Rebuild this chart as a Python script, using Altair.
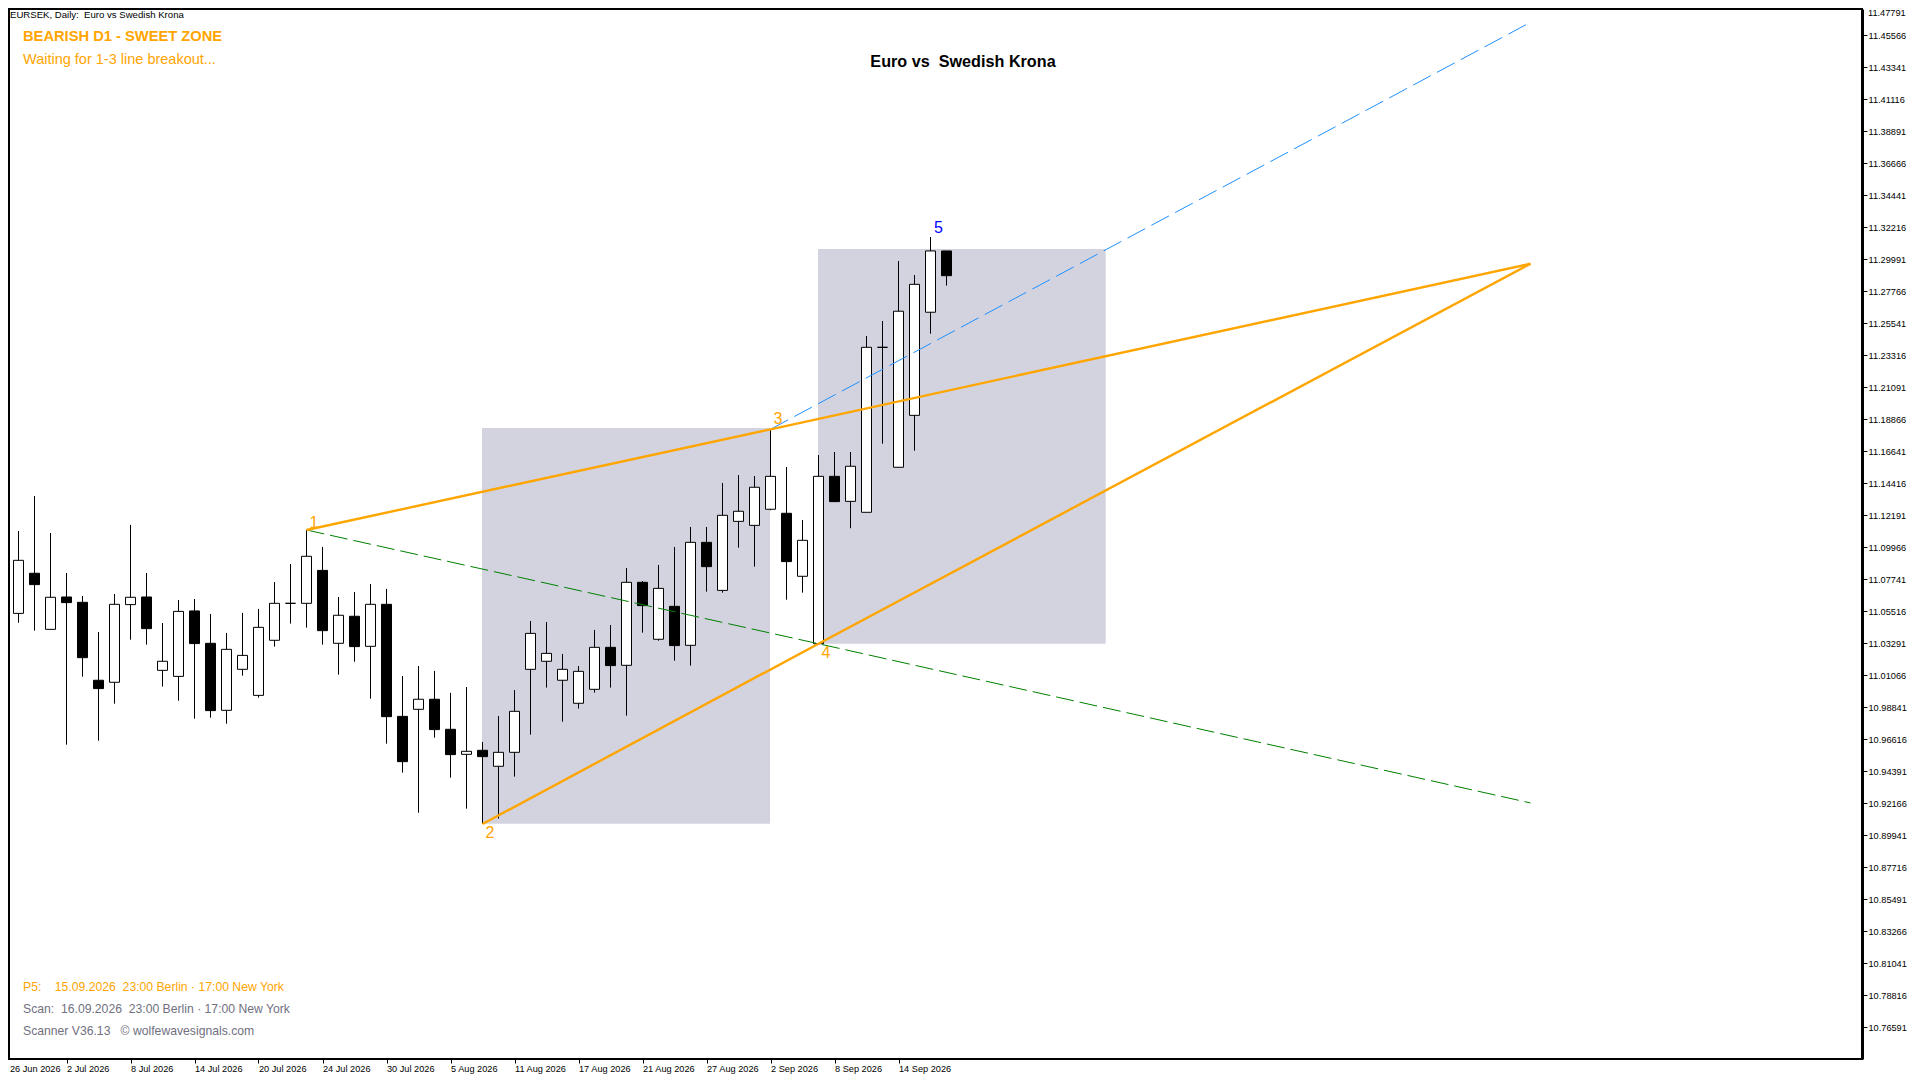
import altair as alt
import pandas as pd

# candles, bar 1 = 29 Jun 2026 ... bar 59 (bar 0 sits behind the left frame)
opens = [11.0535, 11.0814, 11.0424, 11.0649, 11.0612, 11.0070, 11.0056, 11.0596, 11.0649, 11.0139,
         11.0097, 11.0552, 11.0327, 10.9861, 11.0146, 10.9965, 11.0348, 11.0605, 11.0605, 11.0834,
         11.0327, 11.0515, 11.0306, 11.0598, 10.9819, 10.9868, 10.9938, 10.9729, 10.9555, 10.9583,
         10.9472, 10.9569, 11.0146, 11.0202, 11.0070, 10.9910, 11.0007, 11.0299, 11.0174, 11.0751,
         11.0355, 11.0584, 11.0313, 11.1029, 11.0695, 11.1175, 11.1147, 11.1259, 11.1231, 11.0793,
         11.0324, 11.1488, 11.1314, 11.1238, 11.2385, 11.1551, 11.1912, 11.2629, 11.3055]
highs = [11.1108, 11.1351, 11.1094, 11.0816, 11.0656, 11.0406, 11.0670, 11.1150, 11.0816, 11.0468,
         11.0628, 11.0635, 11.0531, 11.0399, 11.0538, 11.0566, 11.0753, 11.0878, 11.1115, 11.0997,
         11.0649, 11.0684, 11.0739, 11.0705, 11.0100, 11.0169, 11.0135, 10.9982, 11.0023, 10.9641,
         10.9822, 11.0002, 11.0482, 11.0475, 11.0253, 11.0169, 11.0420, 11.0454, 11.0851, 11.0760,
         11.0872, 11.0997, 11.1136, 11.1136, 11.1442, 11.1497, 11.1490, 11.1815, 11.1553, 11.1184,
         11.1636, 11.1657, 11.1657, 11.2464, 11.2568, 11.2985, 11.2888, 11.3152, 11.3055]
lows = [11.0470, 11.0415, 11.0424, 10.9622, 11.0095, 10.9650, 10.9907, 11.0352, 11.0318, 11.0026,
        10.9928, 10.9803, 10.9810, 10.9768, 11.0102, 10.9949, 11.0304, 11.0464, 11.0436, 11.0318,
        11.0109, 11.0199, 10.9942, 10.9629, 10.9428, 10.9149, 10.9671, 10.9393, 10.9177, 10.9071,
        10.9108, 10.9400, 10.9692, 11.0019, 10.9782, 10.9873, 10.9984, 11.0019, 10.9824, 11.0401,
        11.0345, 11.0206, 11.0172, 11.0686, 11.0679, 11.0992, 11.0860, 11.1252, 11.0630, 11.0679,
        11.0324, 11.1312, 11.1127, 11.1238, 11.1715, 11.1551, 11.1666, 11.2480, 11.2814]
closes = [11.0904, 11.0735, 11.0647, 11.0610, 11.0227, 11.0012, 11.0598, 11.0647, 11.0429, 11.0202,
          11.0549, 11.0325, 10.9859, 11.0285, 11.0243, 11.0438, 11.0605, 11.0605, 11.0932, 11.0415,
          11.0522, 11.0304, 11.0598, 10.9817, 10.9504, 10.9938, 10.9727, 10.9553, 10.9576, 10.9539,
          10.9569, 10.9854, 11.0396, 11.0257, 11.0146, 11.0132, 11.0299, 11.0172, 11.0751, 11.0589,
          11.0709, 11.0311, 11.1029, 11.0860, 11.1217, 11.1245, 11.1412, 11.1488, 11.0895, 11.1043,
          11.1488, 11.1312, 11.1558, 11.2385, 11.2385, 11.2636, 11.2823, 11.3055, 11.2883]

date_ticks = [4, 8, 12, 16, 20, 24, 28, 32, 36, 40, 44, 48, 52, 56]
date_labels = ['2 Jul 2026', '8 Jul 2026', '14 Jul 2026', '20 Jul 2026', '24 Jul 2026', '30 Jul 2026',
               '5 Aug 2026', '11 Aug 2026', '17 Aug 2026', '21 Aug 2026', '27 Aug 2026', '2 Sep 2026',
               '8 Sep 2026', '14 Sep 2026']
price_ticks = [11.45566, 11.43341, 11.41116, 11.38891, 11.36666, 11.34441, 11.32216, 11.29991,
               11.27766, 11.25541, 11.23316, 11.21091, 11.18866, 11.16641, 11.14416, 11.12191,
               11.09966, 11.07741, 11.05516, 11.03291, 11.01066, 10.98841, 10.96616, 10.94391,
               10.92166, 10.89941, 10.87716, 10.85491, 10.83266, 10.81041, 10.78816, 10.76591]

box_x = [29.97, 50.97]
box_x2 = [47.97, 68.95]
box_top = [11.1824, 11.3069]
box_bottom = [10.9073, 11.0324]

line_13 = ([19, 48, 95.5], [11.1115, 11.1815, 11.2966])
line_24 = ([30, 51, 95.5], [10.9071, 11.0324, 11.2966])
line_14 = ([19, 51, 95.5], [11.1115, 11.0324, 10.9217])
line_35 = ([48, 95.5], [11.1815, 11.4645])

wave_x = [19.47, 30.47, 48.47, 51.47, 58.5]
wave_y = [11.1163, 10.9008, 11.1886, 11.0258, 11.3215]
wave_text = ['1', '2', '3', '4', '5']
wave_color = ['#FFA500', '#FFA500', '#FFA500', '#FFA500', '#0000FF']

LEFT = 9
TOP = 9
ORANGE = '#FFA500'
SLATE = '#70707F'
SP = '\u00a0'

bars = list(range(1, len(opens) + 1))
candles = pd.DataFrame({'bar': bars, 'open': opens, 'high': highs, 'low': lows, 'close': closes})
candles['up'] = candles['close'] >= candles['open']
boxes = pd.DataFrame({'x': box_x, 'x2': box_x2, 'top': box_top, 'bottom': box_bottom})
waves = pd.DataFrame({'x': wave_x, 'y': wave_y, 'label': wave_text, 'color': wave_color})

# padding=0: bars would otherwise pad the continuous x scale by 5px
x_scale = alt.Scale(domain=[0.40625, 116.21875], nice=False, zero=False, padding=0)
y_scale = alt.Scale(domain=[10.74366, 11.47374], nice=False, zero=False)

label_expr = '[' + ','.join("'%s'" % d for d in date_labels) + '][datum.value/4-1]'
x_axis = alt.Axis(values=date_ticks, labelExpr=label_expr, title=None, grid=False, orient='bottom',
                  tickSize=4, tickColor='black', domainColor='black', domainWidth=1,
                  labelAlign='left', labelBaseline='middle', labelPadding=5, labelFont='Liberation Sans',
                  labelFontSize=9.2, labelColor='black', labelOverlap=False, labelBound=False, labelFlush=False)
y_axis = alt.Axis(values=price_ticks, format='.5f', title=None, grid=False, orient='right',
                  tickSize=5, tickColor='black', domainColor='black', domainWidth=3,
                  labelPadding=1, labelFont='Liberation Sans', labelFontSize=9.2, labelColor='black',
                  labelOverlap=False, labelBound=False, labelFlush=False)


def xq(field):
    return alt.X(field, scale=x_scale, axis=x_axis)


def yq(field):
    return alt.Y(field, scale=y_scale, axis=y_axis)


# gray time/price zones
zones = alt.Chart(boxes).mark_rect(color='#D3D3E0').encode(
    x=xq('x:Q'), x2='x2:Q', y=yq('top:Q'), y2='bottom:Q',
)

base = alt.Chart(candles)
wicks = base.mark_rule(color='black', strokeWidth=1).encode(
    x=xq('bar:Q'), y=yq('low:Q'), y2='high:Q',
)
bodies = base.mark_bar(size=10, stroke='black', strokeWidth=1).encode(
    x=xq('bar:Q'), y=yq('open:Q'), y2='close:Q',
    color=alt.condition(alt.datum.up, alt.value('white'), alt.value('black')),
)


def wave_line(points, color, width, dash=None):
    df = pd.DataFrame({'x': points[0], 'y': points[1]})
    opts = {'color': color, 'strokeWidth': width}
    if dash:
        opts['strokeDash'] = dash
    return alt.Chart(df).mark_line(**opts).encode(x=xq('x:Q'), y=yq('y:Q'))


def note(text, px, py, size, color='black', bold=False, align='left', font='Liberation Sans'):
    df = pd.DataFrame({'t': [text]})
    return alt.Chart(df).mark_text(
        align=align, baseline='middle', font=font, fontSize=size, color=color,
        fontWeight='bold' if bold else 'normal',
    ).encode(x=alt.value(px - LEFT), y=alt.value(py - TOP), text='t:N')


wave_labels = alt.Chart(waves).mark_text(font='Liberation Sans', fontSize=16, baseline='middle').encode(
    x=xq('x:Q'), y=yq('y:Q'),
    text='label:N',
    color=alt.Color('color:N', scale=None),
)

notes = [
    note('EURSEK, Daily:' + SP * 2 + 'Euro vs Swedish Krona', 10, 15, 9.6),
    note('BEARISH D1 - SWEET ZONE', 23, 37, 14.7, ORANGE, bold=True),
    note('Waiting for 1-3 line breakout...', 23, 60, 14.5, ORANGE),
    note('Euro vs' + SP * 2 + 'Swedish Krona', 963, 62, 16.2, bold=True, align='center'),
    note('P5:' + SP * 4 + '15.09.2026' + SP * 2 + '23:00 Berlin \u00b7 17:00 New York', 23, 987, 12.2, ORANGE),
    note('Scan:' + SP * 2 + '16.09.2026' + SP * 2 + '23:00 Berlin \u00b7 17:00 New York', 23, 1009, 12.2, SLATE),
    note('Scanner V36.13' + SP * 3 + '\u00a9 wolfewavesignals.com', 23, 1031, 12.2, SLATE),
    note('11.47791', 1868, 13, 9.2),
    note('26 Jun 2026', 10, 1069, 9.2),
]

chart = alt.layer(
    zones, wicks, bodies,
    wave_line(line_14, '#008000', 1, [18, 6]),
    wave_line(line_35, '#1E90FF', 1, [20, 7]),
    wave_line(line_13, ORANGE, 2.4),
    wave_line(line_24, ORANGE, 2.4),
    wave_labels,
    *notes,
).properties(
    width=1853,
    height=1050,
    padding={'left': 1, 'top': 1, 'right': 50, 'bottom': 18},
    autosize=alt.AutoSizeParams(type='none'),
    background='white',
).configure_view(stroke='black', strokeWidth=2)

chart.save("out.html", embed_options={"renderer": "svg", "actions": False})
